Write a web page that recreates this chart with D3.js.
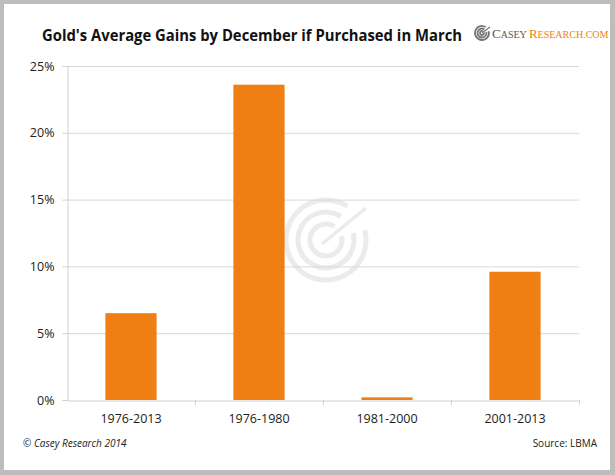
<!DOCTYPE html>
<html><head><meta charset="utf-8">
<script src="https://cdn.jsdelivr.net/npm/d3@7/dist/d3.min.js"></script>
<style>body{margin:0;background:#fff}svg{display:block}</style>
</head><body><svg id="c" width="615" height="475"></svg>
<script>
const categories = ["1976-2013","1976-1980","1981-2000","2001-2013"];
const values = [6.5, 23.6, 0.2, 9.6];
const yTicks = [0,5,10,15,20,25];
const title = "Gold's Average Gains by December if Purchased in March";

const svg = d3.select("#c");
// frame
svg.append("rect").attr("x",0).attr("y",0).attr("width",615).attr("height",475).attr("fill","#bdbdbd");
svg.append("rect").attr("x",4).attr("y",4).attr("width",606).attr("height",466).attr("fill","#fff");

const m = {l:67, r:579, t:66, b:400};
const x = d3.scaleBand().domain(categories).range([m.l,m.r]).paddingInner(0.6).paddingOuter(0.3);
const xb = d3.scaleBand().domain(categories).range([m.l,m.r]);
const y = d3.scaleLinear().domain([0,25]).range([m.b,m.t]);

// watermark
const wm = svg.append("g").attr("transform","translate(326,240)").attr("fill","none").attr("stroke","#ebebeb").attr("stroke-linecap","butt");
[40,28,16].forEach((r,i)=>{
  const arc = d3.arc().innerRadius(r-2.5).outerRadius(r+2.5).startAngle(Math.PI*0.42).endAngle(Math.PI*2.18);
  wm.append("path").attr("d",arc()).attr("fill","#ebebeb").attr("stroke","none");
});
wm.append("line").attr("x1",-4).attr("y1",4).attr("x2",40).attr("y2",-32).attr("stroke-width",3.5);

// gridlines
svg.append("g").selectAll("line").data(yTicks.filter(d=>d>0)).join("line")
  .attr("x1",m.l).attr("x2",m.r).attr("y1",d=>y(d)+0.5).attr("y2",d=>y(d)+0.5)
  .attr("stroke","#d9d9d9").attr("stroke-width",1);

// axes
const yAxis = svg.append("g").attr("transform",`translate(${m.l+0.5},0)`)
  .call(d3.axisLeft(y).tickValues(yTicks).tickFormat(d=>d+"%").tickSize(5).tickPadding(8));
yAxis.select(".domain").attr("stroke","#d0d0d0");
yAxis.selectAll(".tick line").attr("stroke","#d0d0d0");
yAxis.selectAll("text").attr("font-family","'Open Sans', sans-serif").attr("font-size","12.5px").attr("fill","#222");

const xAxis = svg.append("g").attr("transform",`translate(0,${m.b+0.5})`)
  .call(d3.axisBottom(xb).tickSize(0).tickPadding(14));
xAxis.select(".domain").attr("stroke","#d0d0d0");
xAxis.selectAll("text").attr("font-family","'Open Sans', sans-serif").attr("font-size","12.5px").attr("fill","#222");
// category separators
svg.append("g").selectAll("line").data(categories.slice(1).concat(["end"])).join("line")
  .attr("x1",(d,i)=>Math.round(m.l+xb.step()*(i+1))+0.5).attr("x2",(d,i)=>Math.round(m.l+xb.step()*(i+1))+0.5)
  .attr("y1",m.b).attr("y2",m.b+5).attr("stroke","#d0d0d0");

// bars
svg.append("g").selectAll("rect").data(values).join("rect")
  .attr("x",(d,i)=>x(categories[i])).attr("width",x.bandwidth())
  .attr("y",d=>y(d)).attr("height",d=>y(0)-y(d)).attr("fill","#F07F13");

// title
svg.append("text").attr("x",42).attr("y",41).text(title)
  .attr("font-family","'Open Sans', sans-serif").attr("font-weight","bold").attr("font-size","15.5px")
  .attr("fill","#111").attr("textLength",420).attr("lengthAdjust","spacingAndGlyphs");

// logo
const lg = svg.append("g").attr("transform","translate(482,33)").attr("fill","none");
[7,4.5,2].forEach(r=>{
  lg.append("path").attr("d",d3.arc().innerRadius(r-0.9).outerRadius(r+0.9).startAngle(Math.PI*0.42).endAngle(Math.PI*2.18)()).attr("fill","#777");
});
lg.append("line").attr("x1",0).attr("y1",0).attr("x2",8).attr("y2",-6).attr("stroke","#777").attr("stroke-width",1.2);
const lt = svg.append("text").attr("x",492).attr("y",38).attr("font-family","'Liberation Serif', serif").attr("font-size","10px");
lt.append("tspan").attr("fill","#555").attr("font-size","13px").text("C");
lt.append("tspan").attr("fill","#555").text("ASEY ");
lt.append("tspan").attr("fill","#F07F13").attr("font-size","13px").text("R");
lt.append("tspan").attr("fill","#F07F13").text("ESEARCH.COM");

// footer
svg.append("text").attr("x",23).attr("y",447).text("© Casey Research 2014")
  .attr("font-family","'Open Sans', sans-serif").attr("font-style","italic").attr("font-size","10px").attr("fill","#222");
svg.append("text").attr("x",597).attr("y",447).attr("text-anchor","end").text("Source: LBMA")
  .attr("font-family","'Open Sans', sans-serif").attr("font-size","10px").attr("fill","#222");
</script></body></html>
